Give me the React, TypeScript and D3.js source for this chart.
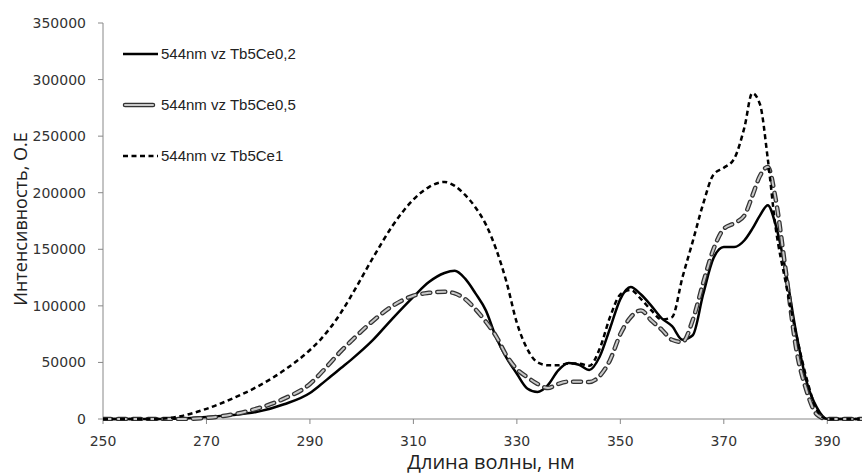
import * as d3 from "d3";
import React from "react";

// длина волны, нм
const wavelengths = [
  250, 255, 260, 265, 270, 275, 280, 285, 290, 292, 294, 296, 298, 302, 306,
  310, 313, 316, 318, 320, 322, 324, 326, 328, 330, 332, 334, 336, 338, 340,
  342, 344, 346, 348, 350, 352, 354, 356, 358, 360, 362, 364, 366, 368, 370,
  372, 374, 375.5, 377, 378.5, 380, 382, 384, 386, 388, 390, 392, 397,
];

const tb5ce02 = [
  0, 0, 0, 500, 1800, 3500, 6500, 13000, 23000, 30000, 37500, 45000, 52500,
  69000, 89000, 108000, 121000, 129000, 131000, 124000, 111000, 96000, 72000,
  54000, 40000, 27000, 23900, 30000, 43000, 49500, 48000, 43300, 55000, 80000,
  106000, 116700, 110000, 100000, 89000, 82000, 70000, 74000, 110000, 142000,
  152000, 152000, 158000, 168000, 180000, 189000, 172000, 130000, 76000, 33000,
  10000, 0, 0, 0,
];

const tb5ce05 = [
  0, 0, 0, 0, 1000, 4000, 9500, 18000, 31000, 40000, 50000, 60000, 69000,
  86000, 100000, 109000, 111500, 112500, 111000, 106000, 97000, 86000, 73000,
  56000, 44000, 37000, 31000, 27400, 31000, 33000, 33000, 32700, 38000, 52000,
  75000, 90000, 96000, 87000, 79000, 70000, 68000, 87500, 120000, 150000,
  168000, 173000, 180000, 197000, 215000, 222700, 195000, 130000, 62000, 25000,
  4000, 0, 0, 0,
];

const tb5ce1 = [
  0, 0, 0, 2500, 9000, 18000, 29000, 43000, 61000, 70000, 81000, 94000,
  109000, 141000, 171000, 194000, 205000, 209500, 206000, 198000, 187000,
  172000, 150000, 121000, 85000, 62000, 50000, 47500, 47500, 49000, 49000,
  47000, 62000, 90000, 110000, 114000, 106000, 96000, 88000, 90000, 125000,
  157000, 190000, 216000, 222000, 230000, 258000, 288000, 278000, 230000,
  170000, 120000, 75000, 36000, 8000, 0, 0, 0,
];

const seriesNames = ["544nm vz Tb5Ce0,2", "544nm vz Tb5Ce0,5", "544nm vz Tb5Ce1"];
const xTicks = [250, 270, 290, 310, 330, 350, 370, 390];
const yTicks = [0, 50000, 100000, 150000, 200000, 250000, 300000, 350000];

const W = 862;
const H = 475;
const margin = { left: 103, top: 23, right: -17, bottom: 56 };

export default function App() {
  const x = d3
    .scaleLinear()
    .domain([250, 400])
    .range([margin.left, W - margin.right]);
  const y = d3
    .scaleLinear()
    .domain([0, 350000])
    .range([H - margin.bottom, margin.top]);

  const line = (vals: number[]) =>
    d3
      .line<number>()
      .x((_, i) => x(wavelengths[i]))
      .y((d) => y(d))
      .curve(d3.curveMonotoneX)(vals) as string;

  const axisColor = "#888";
  const tickFont = "DejaVu Sans, Verdana, sans-serif";
  const titleFont = "'Open Sans', 'Noto Sans', sans-serif";
  const legendY = [54, 105, 156];

  return (
    <svg
      width={W}
      height={H}
      style={{ position: "absolute", left: 0, top: 0, background: "#fff" }}
    >
      <defs>
        <clipPath id="plot">
          <rect x={margin.left} y={0} width={W} height={H - margin.bottom + 2} />
        </clipPath>
      </defs>

      {/* оси */}
      <line x1={x(250)} x2={W} y1={y(0)} y2={y(0)} stroke={axisColor} />
      <line x1={x(250)} x2={x(250)} y1={y(0)} y2={y(350000)} stroke={axisColor} />
      {yTicks.map((t) => (
        <g key={t}>
          <line x1={x(250) - 5} x2={x(250)} y1={y(t)} y2={y(t)} stroke={axisColor} />
          <text
            x={86}
            y={y(t) + 5}
            textAnchor="end"
            fontFamily={tickFont}
            fontSize={14}
            fill="#333"
          >
            {t}
          </text>
        </g>
      ))}
      {xTicks.map((t) => (
        <g key={t}>
          <line x1={x(t)} x2={x(t)} y1={y(0)} y2={y(0) + 5} stroke={axisColor} />
          <text
            x={x(t)}
            y={446}
            textAnchor="middle"
            fontFamily={tickFont}
            fontSize={14}
            fill="#333"
          >
            {t}
          </text>
        </g>
      ))}
      <text
        x={(x(250) + x(400)) / 2}
        y={469}
        textAnchor="middle"
        fontFamily={titleFont}
        fontSize={20}
        fill="#222"
      >
        Длина волны, нм
      </text>
      <text
        transform={`translate(27, 219) rotate(-90)`}
        textAnchor="middle"
        fontFamily={titleFont}
        fontSize={18}
        fill="#222"
      >
        Интенсивность, О.Е
      </text>

      {/* серии */}
      <g clipPath="url(#plot)" fill="none">
        <path d={line(tb5ce02)} stroke="#000" strokeWidth={2.5} />
        <path
          d={line(tb5ce05)}
          stroke="#333"
          strokeWidth={4.5}
          strokeDasharray="8 7"
          strokeLinecap="round"
        />
        <path
          d={line(tb5ce05)}
          stroke="#c8c8c8"
          strokeWidth={2}
          strokeDasharray="8 7"
          strokeLinecap="round"
        />
        <path
          d={line(tb5ce1)}
          stroke="#000"
          strokeWidth={2.5}
          strokeDasharray="5 3.5"
        />
      </g>

      {/* легенда */}
      <g fill="none">
        <line x1={123} x2={158} y1={legendY[0]} y2={legendY[0]} stroke="#000" strokeWidth={2.5} />
        <line x1={125} x2={153} y1={legendY[1]} y2={legendY[1]} stroke="#333" strokeWidth={4.5} strokeLinecap="round" />
        <line x1={125} x2={153} y1={legendY[1]} y2={legendY[1]} stroke="#c8c8c8" strokeWidth={2} strokeLinecap="round" />
        <line x1={123} x2={158} y1={legendY[2]} y2={legendY[2]} stroke="#000" strokeWidth={2.5} strokeDasharray="5 3.5" />
      </g>
      {seriesNames.map((n, i) => (
        <text
          key={n}
          x={161}
          y={legendY[i] + 5}
          fontFamily="'Liberation Sans', Arial, sans-serif"
          fontSize={15}
          fill="#222"
        >
          {n}
        </text>
      ))}
    </svg>
  );
}
